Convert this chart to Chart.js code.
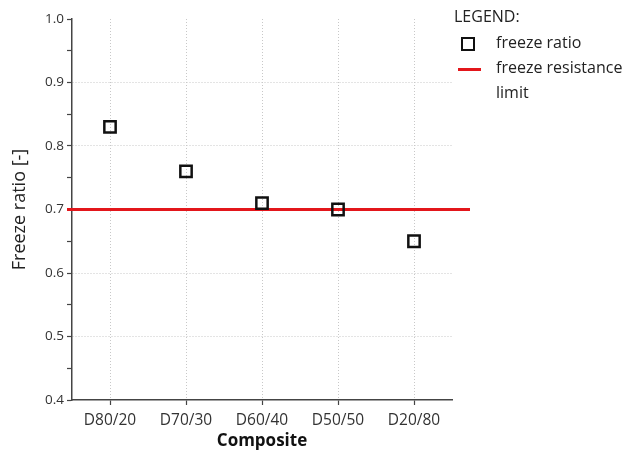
<!DOCTYPE html>
<html>
<head>
<meta charset="utf-8">
<script src="https://cdn.jsdelivr.net/npm/chart.js@4/dist/chart.umd.min.js"></script>
<style>
  html, body { margin: 0; padding: 0; background: #fff; }
  #wrap { position: relative; width: 628px; height: 451px; }
  canvas { position: absolute; left: 0; top: 0; }
  .lg { position: absolute; font-family: "Open Sans", sans-serif; font-size: 16px; color: #222; white-space: nowrap; }
</style>
</head>
<body>
<div id="wrap">
  <canvas id="c" width="628" height="451"></canvas>
  <div class="lg" style="left:454px; top:5px;">LEGEND:</div>
  <div class="lg" style="left:461px; top:37px; width:10px; height:10px; border:2px solid #111;"></div>
  <div class="lg" style="left:496px; top:31px;">freeze ratio</div>
  <div class="lg" style="left:458px; top:68px; width:23px; height:3px; background:#e3161b;"></div>
  <div class="lg" style="left:496px; top:56px;">freeze resistance</div>
  <div class="lg" style="left:496px; top:81px;">limit</div>
</div>
<script>
// Freeze ratio measured per composite mix
const composites = ['D80/20', 'D70/30', 'D60/40', 'D50/50', 'D20/80'];
const freezeRatio = [0.83, 0.76, 0.71, 0.70, 0.65];
// Minimum freeze ratio required for freeze resistance
const resistanceLimit = 0.7;
const yMajorTicks = [0.4, 0.5, 0.6, 0.7, 0.8, 0.9, 1.0];

const FONT = '"Open Sans", sans-serif';

const isMajor = v => yMajorTicks.some(t => Math.abs(t - v) < 1e-6);

// Horizontal limit line, drawn under the markers and a little past the plot edges
const limitLine = {
  id: 'limitLine',
  beforeDatasetsDraw(chart) {
    const { ctx, chartArea, scales } = chart;
    const y = scales.y.getPixelForValue(resistanceLimit);
    ctx.save();
    ctx.strokeStyle = '#e3161b';
    ctx.lineWidth = 3;
    ctx.beginPath();
    ctx.moveTo(chartArea.left - 5, y);
    ctx.lineTo(chartArea.right + 18, y);
    ctx.stroke();
    ctx.restore();
  }
};

new Chart(document.getElementById('c'), {
  type: 'line',
  data: {
    labels: composites,
    datasets: [{
      label: 'freeze ratio',
      data: freezeRatio,
      showLine: false,
      pointStyle: 'rect',
      pointRadius: 8,
      pointHoverRadius: 8,
      pointBorderWidth: 2.5,
      pointBorderColor: '#111',
      pointBackgroundColor: 'rgba(0,0,0,0)'
    }]
  },
  options: {
    responsive: false,
    animation: false,
    events: [],
    layout: { padding: { left: 0, right: 176, top: 19, bottom: 0 } },
    plugins: { legend: { display: false }, tooltip: { enabled: false } },
    scales: {
      x: {
        type: 'category',
        offset: true,
        afterFit(s) { s.height = 51; },
        grid: {
          offset: false,
          color: '#c8c8c8',
          lineWidth: 1,
          tickColor: '#444',
          tickLength: 5,
          tickWidth: 1.2
        },
        border: { color: '#444', width: 1.5, dash: [1, 2] },
        ticks: { color: '#333', font: { family: FONT, size: 15.5 }, padding: 6 },
        title: {
          display: true,
          text: 'Composite',
          color: '#111',
          font: { family: FONT, size: 17, weight: 'bold' },
          padding: { top: 0, bottom: 0 }
        }
      },
      y: {
        min: 0.4,
        max: 1.0,
        afterFit(s) { s.width = 72; },
        afterBuildTicks(s) {
          const t = [];
          for (let i = 0; i <= 12; i++) t.push({ value: Math.round((0.4 + i * 0.05) * 100) / 100 });
          s.ticks = t;
        },
        grid: {
          color: ctx => {
            const v = ctx.tick ? ctx.tick.value : 0;
            return (isMajor(v) && v > 0.45 && v < 0.95) ? '#c8c8c8' : 'rgba(0,0,0,0)';
          },
          lineWidth: 1,
          tickColor: '#444',
          tickLength: 5,
          tickWidth: 1.2
        },
        border: { color: '#444', width: 1.5, dash: [1, 2] },
        ticks: {
          color: '#333',
          font: { family: FONT, size: 13.5 },
          padding: 3,
          autoSkip: false,
          callback: v => isMajor(v) ? v.toFixed(1) : ''
        },
        title: {
          display: true,
          text: 'Freeze ratio [-]',
          color: '#222',
          font: { family: FONT, size: 18 },
          padding: { top: 9, bottom: 0 }
        }
      }
    }
  },
  plugins: [limitLine]
});
</script>
</body>
</html>
